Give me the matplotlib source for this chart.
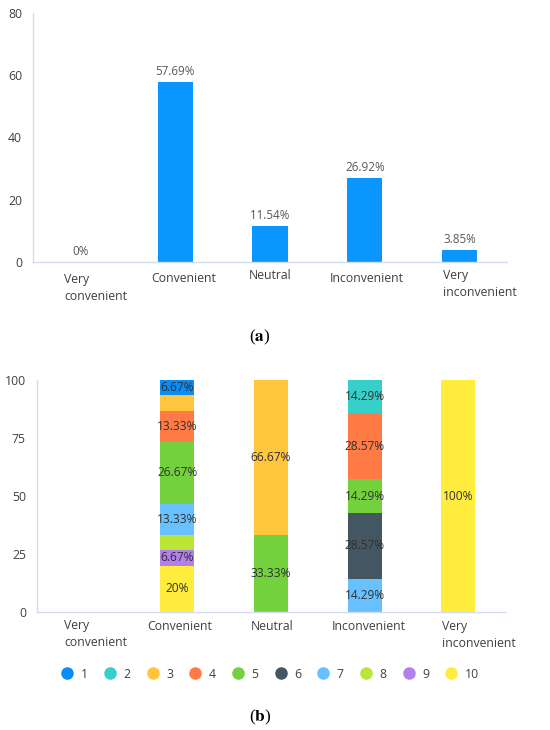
import matplotlib
matplotlib.use('Agg')
import matplotlib.pyplot as plt
import matplotlib.transforms as mtransforms
from matplotlib.lines import Line2D
import numpy as np

plt.rcParams['font.family'] = ['Open Sans', 'DejaVu Sans']
plt.rcParams['mathtext.fontset'] = 'stix'

# data
categories = ['Very\nconvenient', 'Convenient', 'Neutral', 'Inconvenient', 'Very\ninconvenient']
overall_pct = [0, 57.69, 11.54, 26.92, 3.85]

group_names = ['1', '2', '3', '4', '5', '6', '7', '8', '9', '10']
share_1 = [0, 6.67, 0, 0, 0]
share_2 = [0, 0, 0, 14.29, 0]
share_3 = [0, 6.67, 66.67, 0, 0]
share_4 = [0, 13.33, 0, 28.57, 0]
share_5 = [0, 26.67, 33.33, 14.29, 0]
share_6 = [0, 0, 0, 28.57, 0]
share_7 = [0, 13.33, 0, 14.29, 0]
share_8 = [0, 6.67, 0, 0, 0]
share_9 = [0, 6.67, 0, 0, 0]
share_10 = [0, 20, 0, 0, 100]
shares = [share_1, share_2, share_3, share_4, share_5,
          share_6, share_7, share_8, share_9, share_10]

group_colors = ['#0A8CF5', '#36CFC9', '#FFC53D', '#FF7A45', '#73D13D',
                '#435661', '#69C0FF', '#BAE637', '#B37FEB', '#FFEC3D']
# segments whose label is not printed (category index, group name)
hidden_labels = {(1, '3'), (1, '8')}

spine_col = '#D3DCEF'
text_col = '#404040'

fig = plt.figure(figsize=(5.5, 7.3), dpi=100)
ax1 = fig.add_axes([0.06, 0.6411, 0.8618, 0.3415])
ax2 = fig.add_axes([0.0673, 0.1616, 0.8509, 0.3178])

x = np.arange(len(categories))


def style_axes(ax, yticks, pad, dx_list, dy_list):
    for s in ['top', 'right']:
        ax.spines[s].set_visible(False)
    for s in ['left', 'bottom']:
        ax.spines[s].set_color(spine_col)
        ax.spines[s].set_linewidth(1.0)
    ax.set_xlim(-0.5, 4.5)
    ax.set_ylim(yticks[0], yticks[-1])
    ax.set_yticks(yticks)
    ax.set_xticks(x)
    ax.set_xticklabels(categories, multialignment='left', linespacing=1.45)
    ax.tick_params(axis='both', length=0, labelsize=8.8, colors=text_col)
    ax.tick_params(axis='x', pad=pad)
    ax.tick_params(axis='y', pad=8)
    for lab, dx, dy in zip(ax.get_xticklabels(), dx_list, dy_list):
        lab.set_transform(lab.get_transform() +
                          mtransforms.ScaledTranslation(dx / 100, dy / 100, fig.dpi_scale_trans))


# (a) overall
ax1.bar(x, overall_pct, width=0.37, color='#0A95FF')
for xi, v in zip(x, overall_pct):
    ax1.annotate(f'{v:g}%', (xi, v), xytext=(0, 3), textcoords='offset points',
                 ha='center', va='bottom', fontsize=8.4, color='#595959')
style_axes(ax1, [0, 20, 40, 60, 80], 7, [15, 8, 0, 2, 20], [-1, 0, 3, 0, 3])

# (b) stacked by group
bottom = np.zeros(len(categories))
for name, vals, col in reversed(list(zip(group_names, shares, group_colors))):
    vals = np.array(vals, dtype=float)
    ax2.bar(x, vals, width=0.363, bottom=bottom, color=col)
    for i, v in enumerate(vals):
        if v > 0 and (i, name) not in hidden_labels:
            ax2.text(x[i], bottom[i] + v / 2, f'{v:g}%', ha='center', va='center',
                     fontsize=8.6, color='#303030')
    bottom += vals
style_axes(ax2, [0, 25, 50, 75, 100], 5, [12, 2, 1, 4, 21], [0, -1, -1, -1, -1])

handles = [Line2D([], [], marker='o', ls='', markersize=8, color=c) for c in group_colors]
fig.legend(handles, group_names, loc='center', bbox_to_anchor=(0.492, 0.0767),
           ncol=10, frameon=False, handlelength=0.8, handletextpad=0.7,
           columnspacing=1.42, fontsize=8.8, labelcolor=text_col, borderpad=0)

fig.text(0.473, 1 - 337 / 730, r'($\mathbf{a}$)', ha='center', va='center',
         fontsize=12.5, family='Liberation Serif')
fig.text(0.473, 1 - 717 / 730, r'($\mathbf{b}$)', ha='center', va='center',
         fontsize=12.5, family='Liberation Serif')

fig.savefig('out.png', dpi=100)
